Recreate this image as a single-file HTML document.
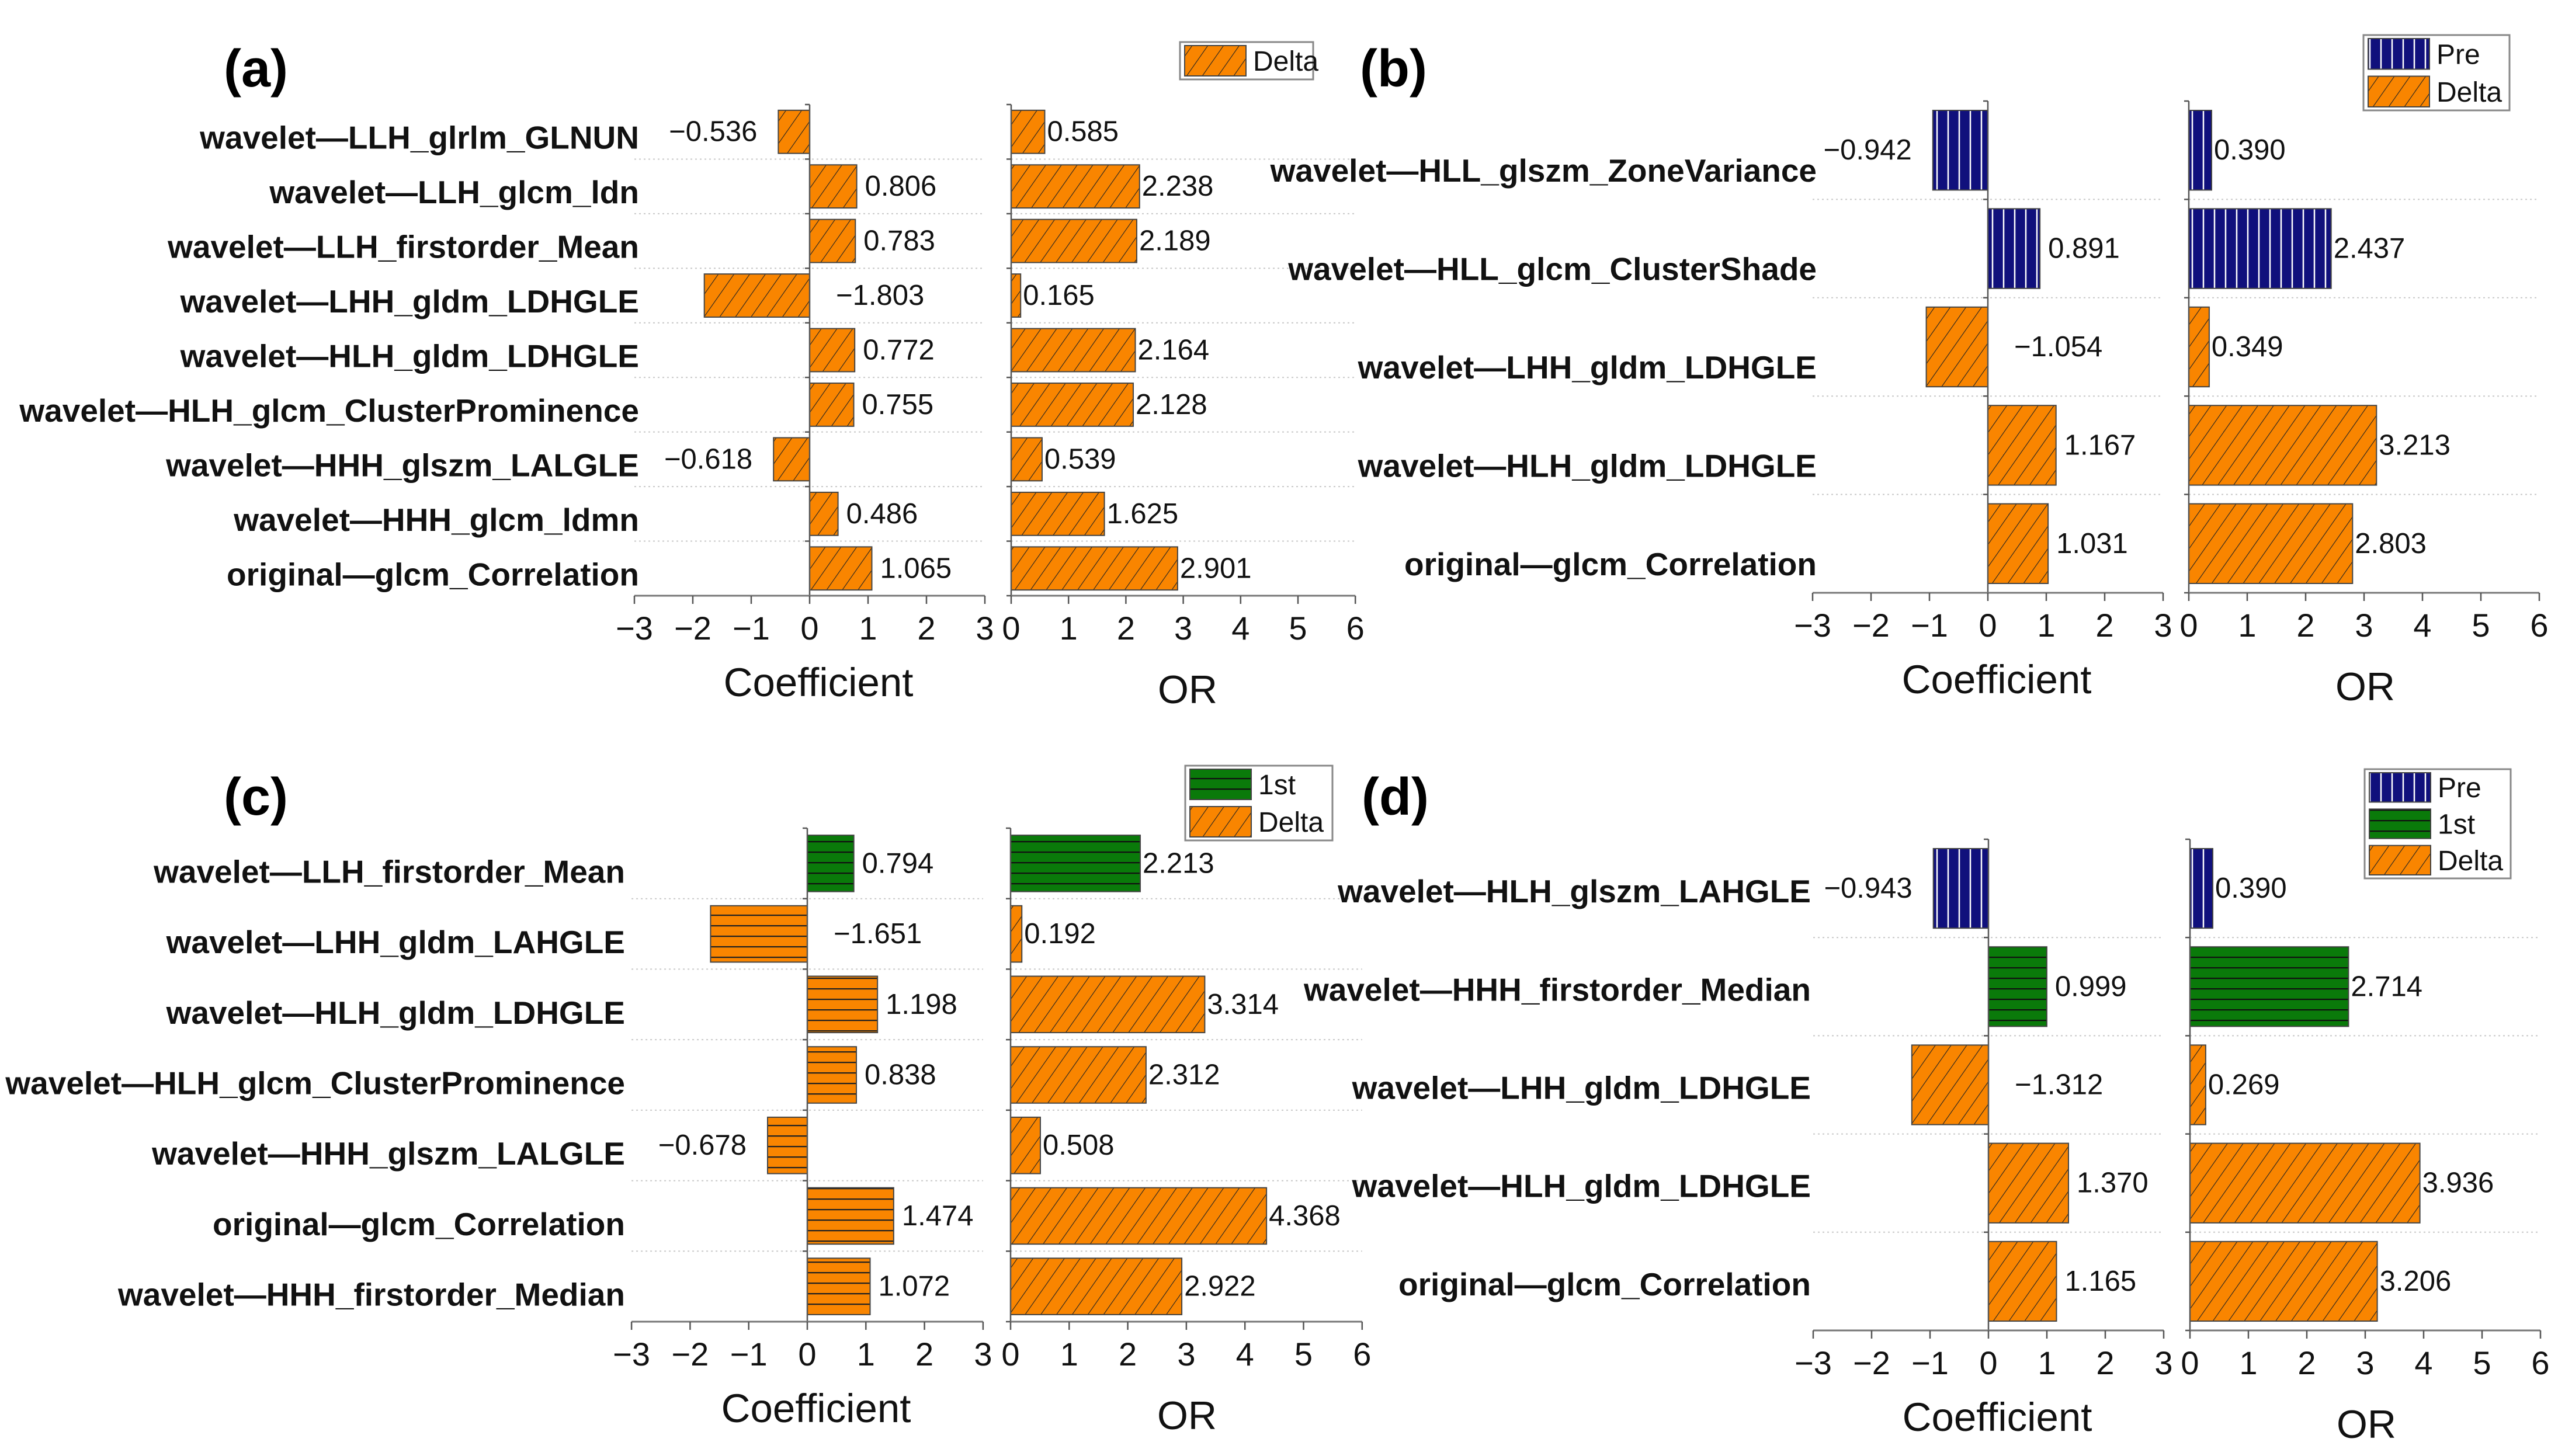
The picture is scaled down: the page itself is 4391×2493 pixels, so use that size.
<!DOCTYPE html>
<html><head><meta charset="utf-8"><style>
html,body{margin:0;padding:0;background:#fff;}
svg{display:block;font-family:"Liberation Sans",Arial,sans-serif;}
</style></head><body>
<svg id="fig" width="4391" height="2493" viewBox="0 0 4391 2493" xmlns="http://www.w3.org/2000/svg">
<defs>
<pattern id="pDelta" patternUnits="userSpaceOnUse" width="22" height="22" patternTransform="rotate(35)">
<rect width="22" height="22" fill="#f98500"/><line x1="0" y1="0" x2="0" y2="22" stroke="#222" stroke-width="2.2"/></pattern>
<pattern id="pDeltaH" patternUnits="userSpaceOnUse" width="20" height="18">
<rect width="20" height="18" fill="#f98500"/><line x1="0" y1="1" x2="20" y2="1" stroke="#222" stroke-width="2.5"/></pattern>
<pattern id="pPre" patternUnits="userSpaceOnUse" width="19" height="20">
<rect width="19" height="20" fill="#10107c"/><line x1="10" y1="0" x2="10" y2="20" stroke="#fff" stroke-width="2.5"/></pattern>
<pattern id="p1st" patternUnits="userSpaceOnUse" width="20" height="18">
<rect width="20" height="18" fill="#0a7a0a"/><line x1="0" y1="1" x2="20" y2="1" stroke="#111" stroke-width="2.5"/></pattern>
</defs>
<g id="root"></g>
</svg>
<script>
// ---- data ----
const aLabels=["wavelet—LLH_glrlm_GLNUN","wavelet—LLH_glcm_ldn","wavelet—LLH_firstorder_Mean","wavelet—LHH_gldm_LDHGLE","wavelet—HLH_gldm_LDHGLE","wavelet—HLH_glcm_ClusterProminence","wavelet—HHH_glszm_LALGLE","wavelet—HHH_glcm_ldmn","original—glcm_Correlation"];
const aCoef=[-0.536,0.806,0.783,-1.803,0.772,0.755,-0.618,0.486,1.065];
const aOR=[0.585,2.238,2.189,0.165,2.164,2.128,0.539,1.625,2.901];
const aGroup=["Delta","Delta","Delta","Delta","Delta","Delta","Delta","Delta","Delta"];
const bLabels=["wavelet—HLL_glszm_ZoneVariance","wavelet—HLL_glcm_ClusterShade","wavelet—LHH_gldm_LDHGLE","wavelet—HLH_gldm_LDHGLE","original—glcm_Correlation"];
const bCoef=[-0.942,0.891,-1.054,1.167,1.031];
const bOR=[0.390,2.437,0.349,3.213,2.803];
const bGroup=["Pre","Pre","Delta","Delta","Delta"];
const cLabels=["wavelet—LLH_firstorder_Mean","wavelet—LHH_gldm_LAHGLE","wavelet—HLH_gldm_LDHGLE","wavelet—HLH_glcm_ClusterProminence","wavelet—HHH_glszm_LALGLE","original—glcm_Correlation","wavelet—HHH_firstorder_Median"];
const cCoef=[0.794,-1.651,1.198,0.838,-0.678,1.474,1.072];
const cOR=[2.213,0.192,3.314,2.312,0.508,4.368,2.922];
const cGroup=["1st","Delta","Delta","Delta","Delta","Delta","Delta"];
const dLabels=["wavelet—HLH_glszm_LAHGLE","wavelet—HHH_firstorder_Median","wavelet—LHH_gldm_LDHGLE","wavelet—HLH_gldm_LDHGLE","original—glcm_Correlation"];
const dCoef=[-0.943,0.999,-1.312,1.370,1.165];
const dOR=[0.390,2.714,0.269,3.936,3.206];
const dGroup=["Pre","1st","Delta","Delta","Delta"];
const coefTicks=["−3","−2","−1","0","1","2","3"];
const orTicks=["0","1","2","3","4","5","6"];

const NS="http://www.w3.org/2000/svg";
const root=document.getElementById('root');
function mk(tag,attrs,parent){const e=document.createElementNS(NS,tag);for(const k in attrs)e.setAttribute(k,attrs[k]);(parent||root).appendChild(e);return e;}
const fills={Pre:"url(#pPre)","1st":"url(#p1st)",Delta:"url(#pDelta)"};

function panel(id,letter,labels,coef,orv,group,cfg){
  const g=mk('g',{});
  
  
  const n=labels.length, rh=(cfg.bottom-cfg.top)/n, bh=rh*cfg.bf;
  const cx=v=>cfg.zx+v*cfg.cu, ox=v=>cfg.ox+v*cfg.ou;
  const t=mk('text',{x:cfg.lx,y:cfg.ly,'font-size':90,'font-weight':'bold'},g);t.textContent='('+letter+')';
  
  
  for(let i=1;i<n;i++){const y=cfg.top+i*rh;
    const l1=mk('line',{x1:cx(-3),x2:cx(3),y1:y,y2:y,stroke:'#c8c8c8','stroke-width':2,'stroke-dasharray':'3 5'},g);
    
    
    const l2=mk('line',{x1:ox(0),x2:ox(6),y1:y,y2:y,stroke:'#c8c8c8','stroke-width':2,'stroke-dasharray':'3 5'},g);
    
    
  }
  for(let i=0;i<n;i++){
    const yc=cfg.top+(i+0.5)*rh, y0=yc-bh/2;
    const lab=mk('text',{x:cfg.labx,y:yc+cfg.ldy+19,'font-size':55,'font-weight':'bold','text-anchor':'end',fill:'#111'},g);
    lab.textContent=labels[i];
    
    
    let f=fills[group[i]];
    if(group[i]==='Delta'&&cfg.hcoef) f="url(#pDeltaH)";
    const v=coef[i];
    const r=mk('rect',{x:Math.min(cx(0),cx(v)),y:y0,width:Math.abs(cx(v)-cx(0)),height:bh,fill:f,stroke:'#444','stroke-width':2},g);
    
    
    let tx,anc;
    if(v>=0){tx=cx(v)+14;anc='start';} else if(v>-1){tx=cx(v)-36;anc='end';} else {tx=cx(0)+45;anc='start';}
    const vt=mk('text',{x:tx,y:yc+16,'font-size':49,'text-anchor':anc,fill:'#111'},g);
    vt.textContent=(v<0?'−':'')+Math.abs(v).toFixed(3);
    
    
    const o=orv[i];
    const r2=mk('rect',{x:ox(0),y:y0,width:ox(o)-ox(0),height:bh,fill:fills[group[i]],stroke:'#444','stroke-width':2},g);
    
    
    const ot=mk('text',{x:ox(o)+4,y:yc+16,'font-size':49,fill:'#111'},g);
    ot.textContent=o.toFixed(3);
    
    
  }
  [[cx(0),'coef'],[ox(0),'or']].forEach(([x,nm])=>{
    const a=mk('line',{x1:x,x2:x,y1:cfg.top,y2:cfg.bottom,stroke:'#555','stroke-width':2.5},g);
    
    
    for(let i=0;i<=n;i++){const tk=mk('line',{x1:x-8,x2:x,y1:cfg.top+i*rh,y2:cfg.top+i*rh,stroke:'#555','stroke-width':2.5},g);
      
      }
  });
  const xa=mk('line',{x1:cx(-3),x2:cx(3),y1:cfg.bottom,y2:cfg.bottom,stroke:'#777','stroke-width':3},g);
  
  
  const xb=mk('line',{x1:ox(0),x2:ox(6),y1:cfg.bottom,y2:cfg.bottom,stroke:'#777','stroke-width':3},g);
  
  
  coefTicks.forEach((s,i)=>{const x=cx(i-3);
    const tk=mk('line',{x1:x,x2:x,y1:cfg.bottom,y2:cfg.bottom+14,stroke:'#555','stroke-width':2.5},g);
    
    
    const tl=mk('text',{x:x,y:cfg.bottom+75,'font-size':56,'text-anchor':'middle',fill:'#111'},g);tl.textContent=s;
    
    });
  orTicks.forEach((s,i)=>{const x=ox(i);
    const tk=mk('line',{x1:x,x2:x,y1:cfg.bottom,y2:cfg.bottom+14,stroke:'#555','stroke-width':2.5},g);
    
    
    const tl=mk('text',{x:x,y:cfg.bottom+75,'font-size':56,'text-anchor':'middle',fill:'#111'},g);tl.textContent=s;
    
    });
  const t1=mk('text',{x:cx(0)+15,y:cfg.bottom+172,'font-size':69,'text-anchor':'middle',fill:'#111'},g);t1.textContent='Coefficient';
  
  
  const t2=mk('text',{x:ox(0)+302,y:cfg.bottom+184,'font-size':68,'text-anchor':'middle',fill:'#111'},g);t2.textContent='OR';
  
  
  const L=cfg.leg, eh=(L.y2-L.y1)/L.items.length;
  const lb=mk('rect',{x:L.x1,y:L.y1,width:L.x2-L.x1,height:L.y2-L.y1,fill:'#fff',stroke:'#888','stroke-width':3},g);
  
  
  L.items.forEach((it,i)=>{const y=L.y1+i*eh;
    const sw=mk('rect',{x:L.x1+8,y:y+6,width:105,height:eh-12,fill:fills[it],stroke:'#444','stroke-width':2},g);
    
    
    const tx=mk('text',{x:L.x1+125,y:y+eh/2+17,'font-size':48,fill:'#111'},g);tx.textContent=it;
    
    });
}
panel('a','a',aLabels,aCoef,aOR,aGroup,{zx:1386,cu:100,ox:1731,ou:98.2,top:179,bottom:1020,bf:0.79,labx:1094,ldy:10,lx:383,ly:148,
  leg:{x1:2020,y1:72,x2:2248,y2:136,items:["Delta"]}});
panel('b','b',bLabels,bCoef,bOR,bGroup,{zx:3403,cu:100,ox:3747,ou:100,top:173,bottom:1015,bf:0.81,labx:3110,ldy:35,lx:2328,ly:148,
  leg:{x1:4046,y1:60,x2:4296,y2:189,items:["Pre","Delta"]}});
panel('c','c',cLabels,cCoef,cOR,cGroup,{zx:1382,cu:100.3,ox:1730,ou:100.3,top:1418,bottom:2263,bf:0.8,labx:1070,ldy:14,lx:383,ly:1395,hcoef:true,
  leg:{x1:2029,y1:1311,x2:2281,y2:1439,items:["1st","Delta"]}});
panel('d','d',dLabels,dCoef,dOR,dGroup,{zx:3404,cu:100,ox:3749,ou:100,top:1437,bottom:2278,bf:0.81,labx:3100,ldy:5,lx:2331,ly:1395,
  leg:{x1:4048,y1:1317,x2:4298,y2:1504,items:["Pre","1st","Delta"]}});
</script>
</body></html>
